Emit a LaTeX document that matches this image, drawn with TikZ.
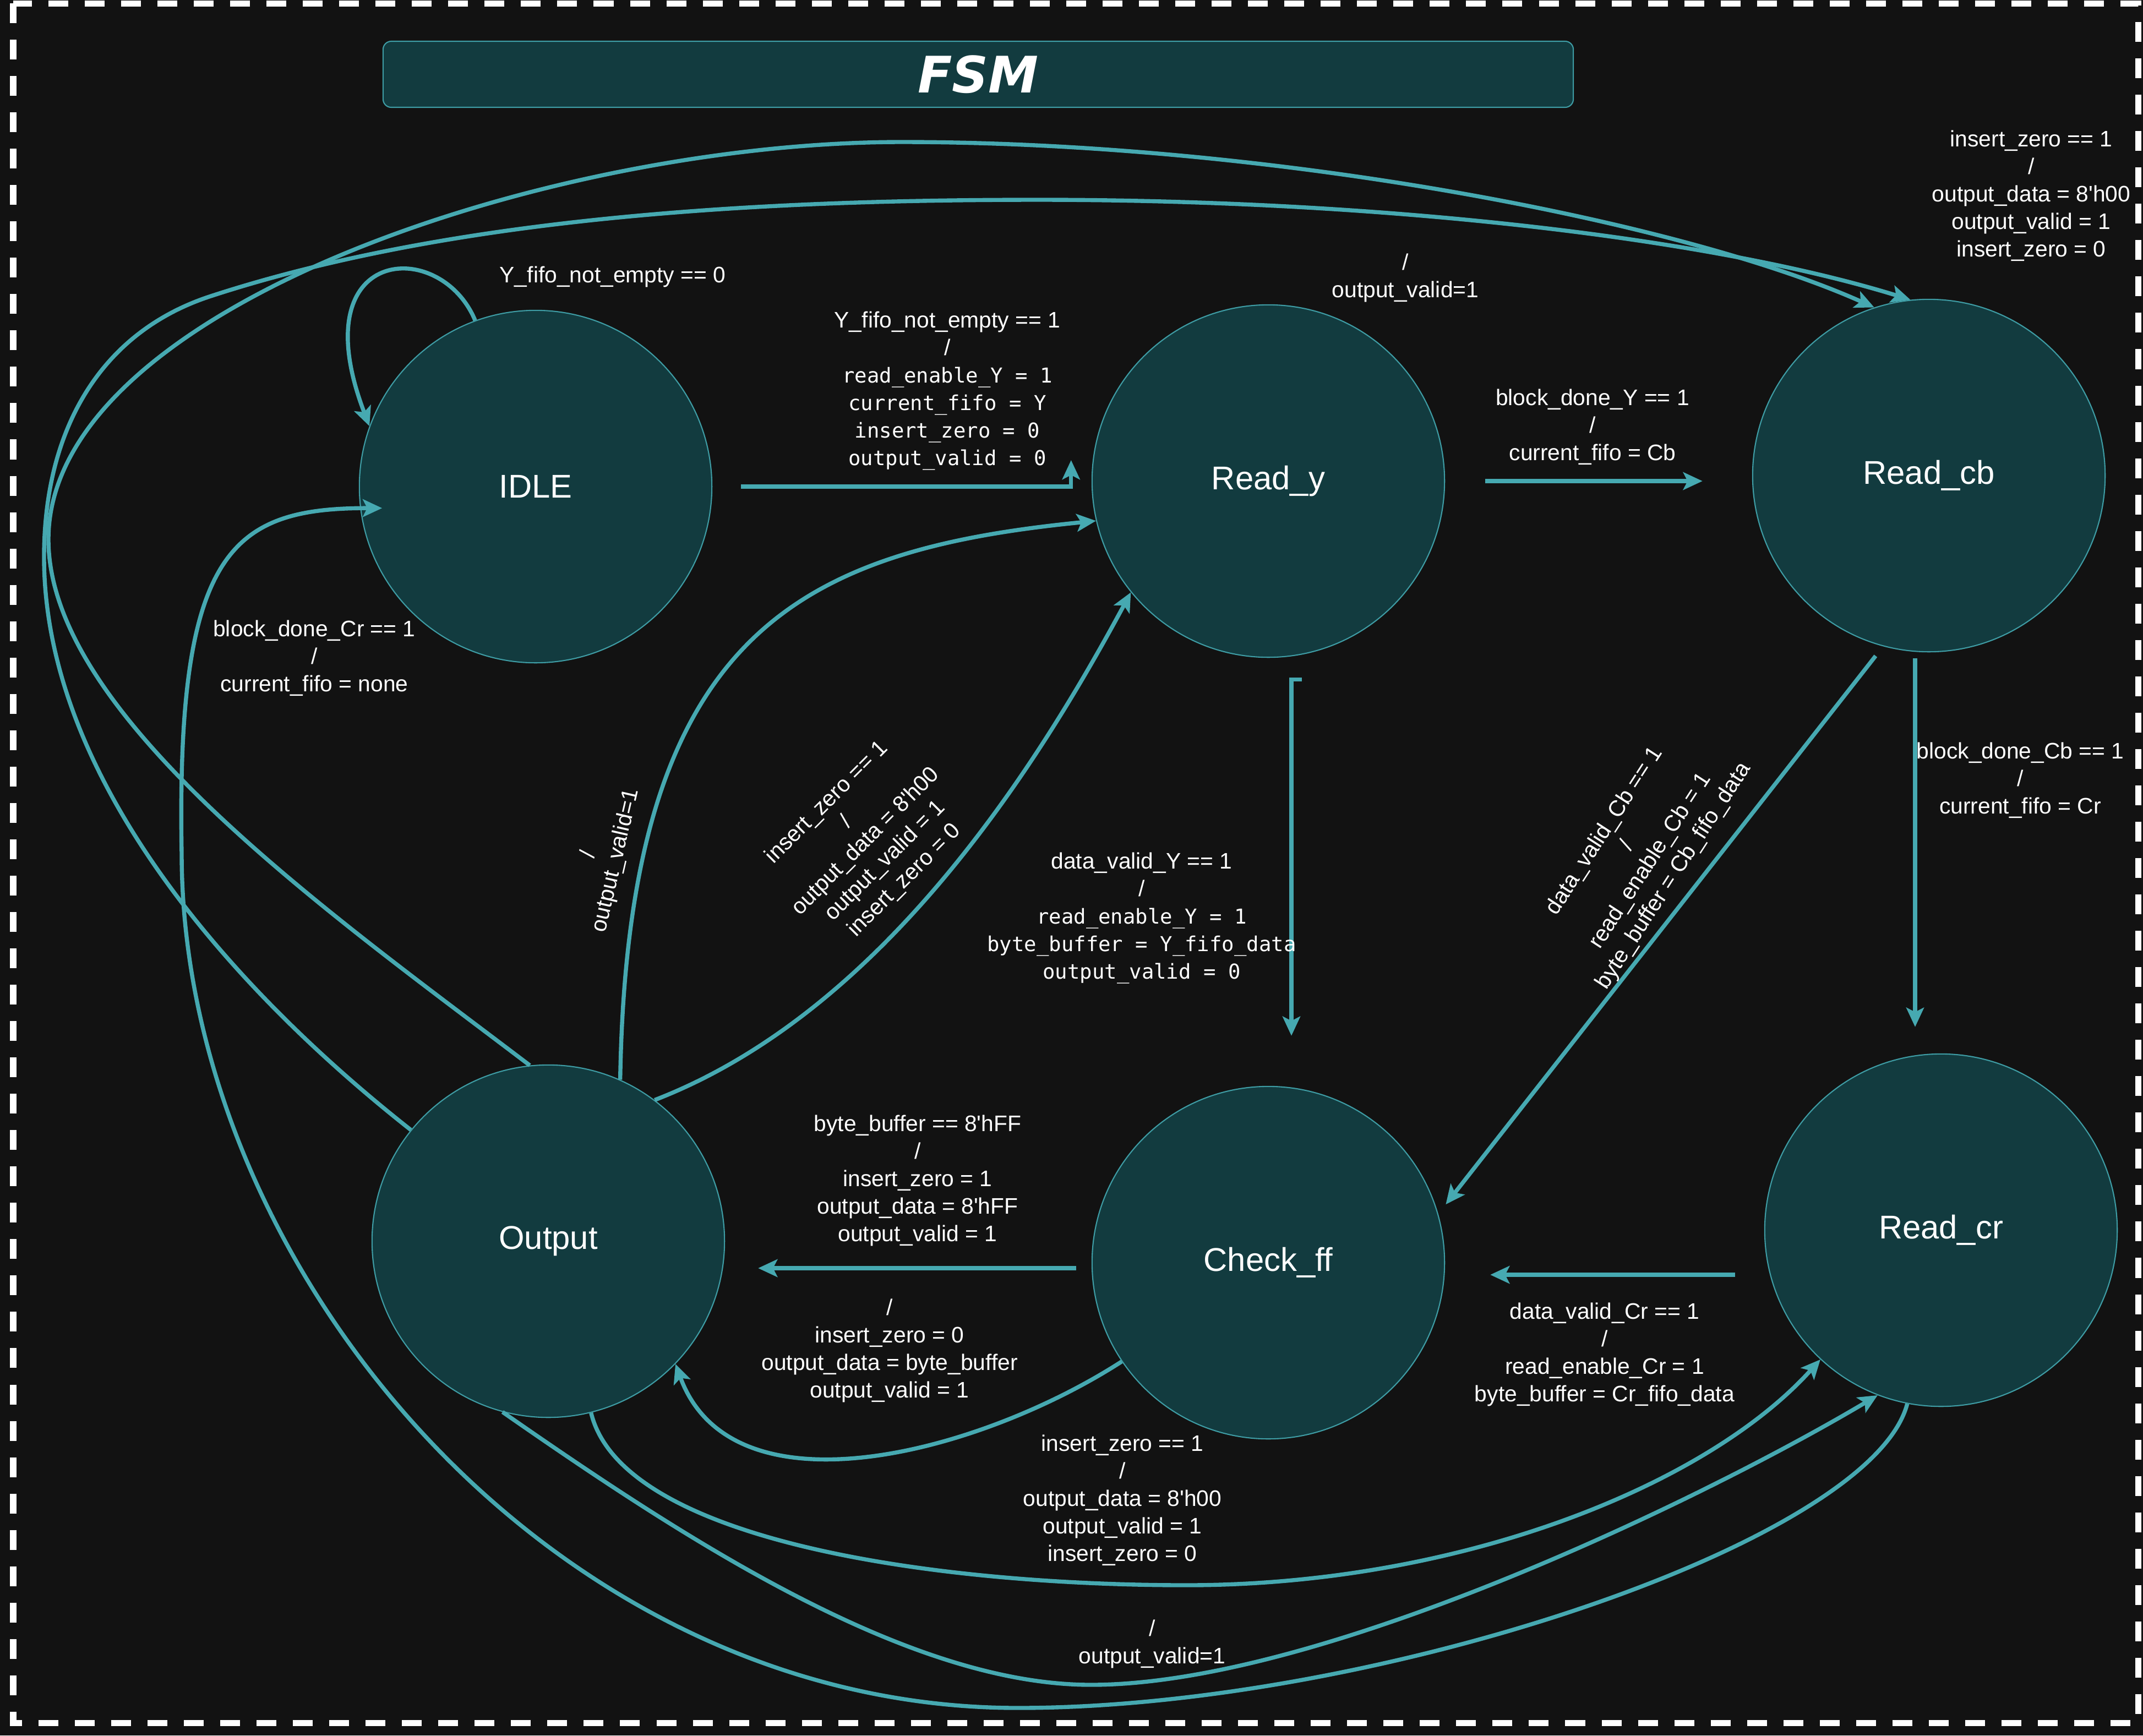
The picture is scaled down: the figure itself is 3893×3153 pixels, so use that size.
\documentclass[tikz,border=0pt]{standalone}
\usepackage{fontspec}
\setmainfont{Liberation Sans}
\newfontfamily\monofont{DejaVu Sans Mono}
\newfontfamily\titlefont{DejaVu Sans}
\usetikzlibrary{arrows.meta}

\definecolor{bgdark}{HTML}{121212}
\definecolor{statefill}{HTML}{123B3F}
\definecolor{edgecol}{HTML}{46A9B1}
\definecolor{rimcol}{HTML}{3E9CA4}

\newcommand{\act}[1]{{\monofont\fontsize{10.6}{14.2}\selectfont #1}}
\newcommand{\sq}{\textquotesingle}

\begin{document}
\begin{tikzpicture}[x=0.01cm, y=-0.01cm,
  state/.style={circle, draw=rimcol, line width=0.6pt, fill=statefill, minimum size=6.4cm,
    inner sep=0pt, text=white, font=\fontsize{17}{20}\selectfont},
  titlebox/.style={rectangle, rounded corners=0.15cm, draw=rimcol, line width=0.6pt, fill=statefill,
    minimum width=21.61cm, minimum height=1.2cm, text=white, font=\fontsize{26}{30}\selectfont},
  trans/.style={draw=edgecol, line width=2.1pt, -{Stealth[length=0.35cm, width=0.32cm, inset=0.08cm]}},
  cond/.style={text=white, align=center, inner sep=0pt, font=\fontsize{11.6}{14.2}\selectfont}]
  \useasboundingbox (0,0) rectangle (3893,3153);
  \fill[bgdark] (0,0) rectangle (3893,3153);
  \draw[white, line width=0.11cm, dash pattern=on 0.36cm off 0.3cm] (24,6) rectangle (3884,3130);

  \node[titlebox] (fsm) at (1777,135) {\titlefont\bfseries\itshape FSM};

  \node[state] (idle) at (973,884) {IDLE};
  \node[state] (ready) at (2304,874) {Read\_y};
  \node[state] (readcb) at (3504,864) {Read\_cb};
  \node[state] (outp) at (996,2255) {Output};
  \node[state] (chk) at (2304,2294) {Check\_ff};
  \node[state] (readcr) at (3526,2235) {Read\_cr};

  \draw[trans] (idle.110) .. controls (800,430) and (545,445) .. (idle.160);
  \draw[trans] ([shift={(52,0)}]idle.east) -| ([shift={(-37,-38)}]ready.west);
  \draw[trans, shorten <=0.73cm, shorten >=0.9cm] (ready.east) -- (ready.east -| readcb.west);
  \draw[trans] ([shift={(61,39)}]ready.south) -- ++(-19,0) -- ([shift={(42,-91)}]chk.north);
  \draw[trans] ([shift={(-25,11)}]readcb.south) -- ([shift={(-47,-48)}]readcr.north);
  \draw[trans, shorten <=0.22cm, shorten >=0.22cm] (readcb.255) -- (chk.16);
  \draw[trans] ([shift={(-53,81)}]readcr.west) -- ([shift={(82,22)}]chk.east);
  \draw[trans] ([shift={(-28,10)}]chk.west) -- ([shift={(60,49)}]outp.east);
  \draw[trans] (chk.214) .. controls (1780,2640) and (1330,2760) .. (outp.316);
  \draw[trans] (outp.66) .. controls (1140,1150) and (1450,1000) .. (ready.193);
  \draw[trans] (outp.53) .. controls (1600,1840) and (1880,1400) .. (ready.219);
  \draw[trans] (outp.284) .. controls (1130,2800) and (1700,2880) .. (2155,2880)
    .. controls (2650,2880) and (3100,2700) .. (readcr.227);
  \draw[trans] (outp.255) .. controls (1250,2800) and (1650,3061) .. (1982,3061)
    .. controls (2400,3061) and (3100,2720) .. (readcr.249);
  \draw[trans] (readcr.259) .. controls (3400,2800) and (2500,3103) .. (1849,3103)
    .. controls (1000,3103) and (330,2300) .. (330,1550)
    .. controls (320,1000) and (420,923) .. ([xshift=0.4cm]idle.187);
  \draw[trans] (outp.96) .. controls (600,1660) and (88,1300) .. (88,980)
    .. controls (88,560) and (1000,258) .. (1638,258)
    .. controls (2300,258) and (3050,400) .. (readcb.108);
  \draw[trans] (outp.141) .. controls (400,1780) and (80,1400) .. (80,1012)
    .. controls (80,780) and (183,603) .. (383,538)
    .. controls (833,391) and (1400,363) .. (1886,363)
    .. controls (2500,363) and (3100,430) .. (readcb.96);

  \node[cond] (loopidle) at (1113,503) {Y\_fifo\_not\_empty == 0};
  \node[cond] (idletoy) at (1721,710) {Y\_fifo\_not\_empty == 1\\/\\\act{read\_enable\_Y = 1}\\\act{current\_fifo = Y}\\\act{insert\_zero = 0}\\\act{output\_valid = 0}};
  \node[cond] (ytocb) at (2893,776) {block\_done\_Y == 1\\/\\current\_fifo = Cb};
  \node[cond] (ytochk) at (2074,1668) {data\_valid\_Y == 1\\/\\\act{read\_enable\_Y = 1}\\\act{byte\_buffer = Y\_fifo\_data}\\\act{output\_valid = 0}};
  \node[cond] (cbtocr) at (3670,1418) {block\_done\_Cb == 1\\/\\current\_fifo = Cr};
  \node[cond, rotate=57] (cbtochk) at (2978,1551) {data\_valid\_Cb == 1\\/\\read\_enable\_Cb = 1\\byte\_buffer = Cb\_fifo\_data};
  \node[cond] (crtochk) at (2915,2461) {data\_valid\_Cr == 1\\/\\read\_enable\_Cr = 1\\byte\_buffer = Cr\_fifo\_data};
  \node[cond] (chktoout) at (1667,2145) {byte\_buffer == 8\sq hFF\\/\\insert\_zero = 1\\output\_data = 8\sq hFF\\output\_valid = 1};
  \node[cond] (chkelse) at (1616,2454) {/\\insert\_zero = 0\\output\_data = byte\_buffer\\output\_valid = 1};
  \node[cond, rotate=77] (outtoy) at (1095,1558) {/\\output\_valid=1};
  \node[cond, rotate=45] (outtoyzero) at (1573,1529) {insert\_zero == 1\\/\\output\_data = 8\sq h00\\output\_valid = 1\\insert\_zero = 0};
  \node[cond] (outtocrzero) at (2039,2726) {insert\_zero == 1\\/\\output\_data = 8\sq h00\\output\_valid = 1\\insert\_zero = 0};
  \node[cond] (outtocr) at (2093,2987) {/\\output\_valid=1};
  \node[cond] (crtoidle) at (571,1196) {block\_done\_Cr == 1\\/\\current\_fifo = none};
  \node[cond] (outtocbzero) at (3690,356) {insert\_zero == 1\\/\\output\_data = 8\sq h00\\output\_valid = 1\\insert\_zero = 0};
  \node[cond] (outtocb) at (2553,505) {/\\output\_valid=1};
\end{tikzpicture}
\end{document}
